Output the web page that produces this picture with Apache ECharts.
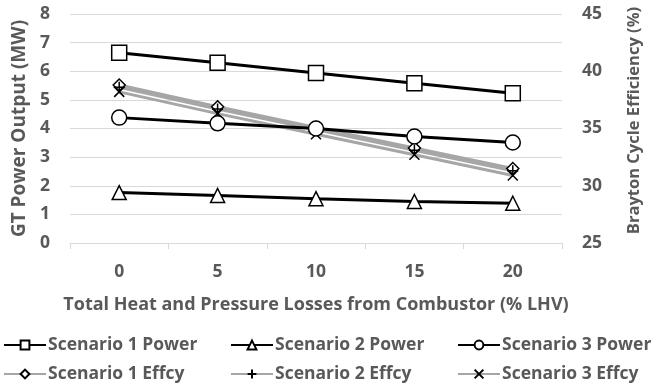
<!DOCTYPE html>
<html><head><meta charset="utf-8">
<script src="https://cdn.jsdelivr.net/npm/echarts@6/dist/echarts.min.js"></script>
<style>html,body{margin:0;padding:0;background:#fff}#c{width:662px;height:389px}</style>
</head><body><div id="c"></div>
<script>
var categories = ['0','5','10','15','20'];
var s1Power = [6.65, 6.30, 5.94, 5.58, 5.23];
var s2Power = [1.76, 1.66, 1.55, 1.45, 1.39];
var s3Power = [4.38, 4.18, 4.00, 3.72, 3.51];
var s1Effcy = [38.8, 36.9, 35.1, 33.3, 31.5];
var s2Effcy = [38.6, 36.7, 34.9, 33.1, 31.3];
var s3Effcy = [38.2, 36.3, 34.5, 32.7, 30.9];

var TXT = '#595959';
var FONT = '"Open Sans", sans-serif';
var xPath = 'path://M0,0L10,10M10,0L0,10';
var plusPath = 'path://M5,0L5,10M0,5L10,5';

function blackLine(name, data, symbol, size){
  return {name:name, type:'line', yAxisIndex:0, data:data, symbol:symbol, symbolSize:size,
    lineStyle:{color:'#000', width:3}, itemStyle:{color:'#fff', borderColor:'#000', borderWidth:1.5},
    z:3};
}
function grayLine(name, data, symbol, size){
  return {name:name, type:'line', yAxisIndex:1, data:data, symbol:symbol, symbolSize:size,
    lineStyle:{color:'#a6a6a6', width:3}, itemStyle:{color:'#fff', borderColor:'#000', borderWidth:1.5},
    z:2};
}
function legend(names, left){
  return {orient:'vertical', left:left, top:336, padding:0, itemGap:11, itemWidth:42, itemHeight:11,
    data:names, textStyle:{color:TXT, fontFamily:FONT, fontSize:17.5, fontWeight:'bold', padding:[0,0,0,-3]}};
}
var chart = echarts.init(document.getElementById('c'));
chart.setOption({
  animation:false,
  textStyle:{fontFamily:FONT},
  grid:{left:70, right:100, top:14, bottom:146},
  legend:[
    legend(['Scenario 1 Power','Scenario 1 Effcy'], 3),
    legend(['Scenario 2 Power','Scenario 2 Effcy'], 230),
    legend(['Scenario 3 Power','Scenario 3 Effcy'], 457)
  ],
  xAxis:{type:'category', data:categories, boundaryGap:true,
    name:'Total Heat and Pressure Losses from Combustor (% LHV)', nameLocation:'middle', nameGap:53,
    nameTextStyle:{color:TXT, fontSize:18, fontWeight:'bold', fontFamily:FONT},
    axisLine:{lineStyle:{color:'#d9d9d9', width:1}},
    axisTick:{show:true, length:6, lineStyle:{color:'#d9d9d9'}},
    axisLabel:{color:TXT, fontSize:17.5, fontWeight:'bold', margin:20, fontFamily:FONT}},
  yAxis:[
    {type:'value', min:0, max:8, interval:1, position:'left',
     name:'GT Power Output (MW)', nameLocation:'middle', nameGap:38, nameRotate:90,
     nameTextStyle:{color:TXT, fontSize:19, fontWeight:'bold', fontFamily:FONT},
     axisLine:{show:false}, axisTick:{show:false},
     splitLine:{lineStyle:{color:'#d9d9d9', width:1}},
     axisLabel:{color:TXT, fontSize:17.5, fontWeight:'bold', margin:20, fontFamily:FONT}},
    {type:'value', min:25, max:45, interval:5, position:'right',
     name:'Brayton Cycle Efficiency (%)', nameLocation:'middle', nameGap:64, nameRotate:90,
     nameTextStyle:{color:TXT, fontSize:16.5, fontWeight:'bold', fontFamily:FONT, padding:[0,0,0,16]},
     axisLine:{show:false}, axisTick:{show:false}, splitLine:{show:false},
     axisLabel:{color:TXT, fontSize:17.5, fontWeight:'bold', margin:20, fontFamily:FONT}}
  ],
  series:[
    blackLine('Scenario 1 Power', s1Power, 'rect', 15),
    blackLine('Scenario 2 Power', s2Power, 'triangle', 14),
    blackLine('Scenario 3 Power', s3Power, 'circle', 15),
    grayLine('Scenario 1 Effcy', s1Effcy, 'diamond', 12),
    grayLine('Scenario 2 Effcy', s2Effcy, plusPath, 11),
    grayLine('Scenario 3 Effcy', s3Effcy, xPath, 10)
  ]
});
</script></body></html>
